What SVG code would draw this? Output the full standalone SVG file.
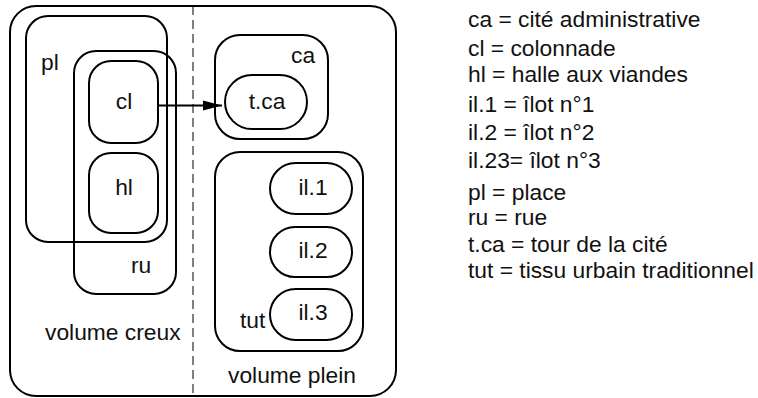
<svg xmlns="http://www.w3.org/2000/svg" width="758" height="398" viewBox="0 0 758 398">
<style>
.b{fill:none;stroke:#000;stroke-width:2}
text{font-family:"Liberation Sans",Arial,sans-serif;font-size:22.8px;fill:#111}
.m{text-anchor:middle}
</style>
<defs>
<marker id="ah" markerWidth="20" markerHeight="12" refX="19" refY="6" orient="auto" markerUnits="userSpaceOnUse">
<path d="M0,1 L19,6 L0,11 Z" fill="#000"/>
</marker>
</defs>
<rect width="758" height="398" fill="#fff"/>
<g id="outer">
<rect class="b" x="10" y="6" width="386" height="390" rx="26"/>
<line x1="193" y1="6" x2="193" y2="396" stroke="#000" stroke-width="1" stroke-dasharray="9,5"/>
<text x="45" y="340">volume creux</text>
<text x="228" y="383">volume plein</text>
</g>
<g id="pl">
<rect class="b" x="26" y="16" width="141" height="226" rx="22"/>
<text x="41" y="70">pl</text>
</g>
<g id="ru">
<rect class="b" x="74" y="51" width="102" height="243" rx="22"/>
<text x="131" y="273">ru</text>
</g>
<g id="cl">
<rect class="b" x="89" y="61" width="69" height="82" rx="22"/>
<text class="m" x="124" y="109">cl</text>
</g>
<g id="hl">
<rect class="b" x="89" y="153" width="69" height="80" rx="22"/>
<text class="m" x="124" y="195">hl</text>
</g>
<g id="ca">
<rect class="b" x="215" y="35" width="113" height="104" rx="25"/>
<text x="291" y="63">ca</text>
</g>
<g id="tca">
<rect class="b" x="225" y="75" width="82" height="54" rx="27"/>
<text class="m" x="267" y="109">t.ca</text>
</g>
<g id="tut">
<rect class="b" x="215" y="152" width="148" height="199" rx="25"/>
<text x="240" y="328">tut</text>
</g>
<g id="il1">
<rect class="b" x="270" y="163" width="82" height="51" rx="25.5"/>
<text class="m" x="313" y="195">il.1</text>
</g>
<g id="il2">
<rect class="b" x="270" y="227" width="82" height="50" rx="25"/>
<text class="m" x="313" y="258">il.2</text>
</g>
<g id="il3">
<rect class="b" x="270" y="289" width="82" height="51" rx="25.5"/>
<text class="m" x="313" y="320">il.3</text>
</g>
<g id="connectors">
<line x1="158" y1="105.5" x2="222" y2="105.5" stroke="#000" stroke-width="2" marker-end="url(#ah)"/>
</g>
<g id="legend">
<text x="468" y="27">ca = cité administrative</text>
<text x="468" y="56">cl = colonnade</text>
<text x="468" y="82">hl = halle aux viandes</text>
<text x="468" y="112">il.1 = îlot n°1</text>
<text x="468" y="140">il.2 = îlot n°2</text>
<text x="468" y="168">il.23= îlot n°3</text>
<text x="468" y="200">pl = place</text>
<text x="468" y="225">ru = rue</text>
<text x="468" y="252">t.ca = tour de la cité</text>
<text x="468" y="278">tut = tissu urbain traditionnel</text>
</g>
</svg>
